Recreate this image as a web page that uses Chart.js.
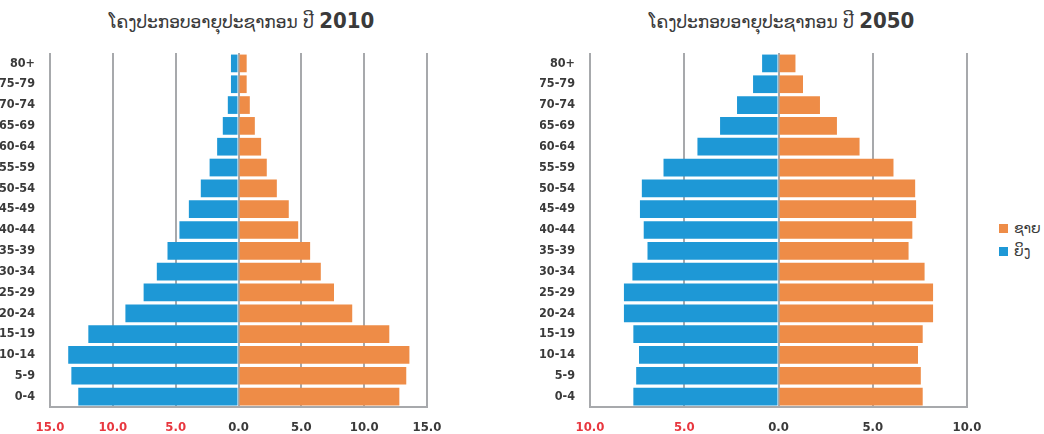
<!DOCTYPE html>
<html>
<head>
<meta charset="utf-8">
<script src="https://cdn.jsdelivr.net/npm/chart.js@4.4.1/dist/chart.umd.min.js"></script>
<style>
  html, body { margin: 0; padding: 0; background: #fff; }
  body { width: 1044px; height: 434px; position: relative; overflow: hidden; }
  canvas { position: absolute; top: 0; }
  .title { position: absolute; top: 8px; width: 445px; text-align: center; color: #3a3a3a; white-space: nowrap; }
  .title .lao { font-family: "DejaVu Sans", sans-serif; font-size: 17px; }
  .title .yr { font-family: "Liberation Sans Narrow", "DejaVu Sans Condensed", sans-serif; font-weight: bold; font-size: 22px; }
  .legend { position: absolute; left: 999px; top: 217px; font-family: "DejaVu Sans", sans-serif; font-size: 14px; color: #3a3a3a; }
  .legend div { height: 23px; line-height: 23px; white-space: nowrap; }
  .legend span.sw { display: inline-block; width: 9px; height: 9px; margin-right: 6px; vertical-align: middle; position: relative; top: -1px; }
</style>
</head>
<body>
<div class="title" style="left:19px"><span class="lao">ໂຄງປະກອບອາຍຸປະຊາກອນ ປີ </span><span class="yr">2010</span></div>
<div class="title" style="left:559px"><span class="lao">ໂຄງປະກອບອາຍຸປະຊາກອນ ປີ </span><span class="yr">2050</span></div>
<canvas id="c2010" width="445" height="434" style="left:0px"></canvas>
<canvas id="c2050" width="445" height="434" style="left:540px"></canvas>
<div class="legend">
  <div><span class="sw" style="background:#EE8C47"></span>ຊາຍ</div>
  <div><span class="sw" style="background:#1E98D6"></span>ຍິງ</div>
</div>
<script>
const ageGroups = ['80+','75-79','70-74','65-69','60-64','55-59','50-54','45-49','40-44','35-39','30-34','25-29','20-24','15-19','10-14','5-9','0-4'];
const maleLabel = 'ຊາຍ';
const femaleLabel = 'ຍິງ';

const male2010   = [0.65,0.65,0.9,1.3,1.8,2.25,3.05,4.0,4.75,5.7,6.55,7.6,9.05,12.0,13.6,13.35,12.8];
const female2010 = [0.6,0.6,0.85,1.25,1.7,2.3,3.0,3.95,4.7,5.65,6.5,7.55,9.0,11.95,13.55,13.3,12.75];

const male2050   = [0.9,1.3,2.2,3.1,4.3,6.1,7.25,7.3,7.1,6.9,7.75,8.2,8.2,7.65,7.4,7.55,7.65];
const female2050 = [0.87,1.35,2.2,3.1,4.3,6.1,7.25,7.35,7.15,6.95,7.75,8.2,8.2,7.7,7.4,7.55,7.7];

const ticks2010 = [-15,-10,-5,0,5,10,15];
const ticks2050 = [-10,-5,0,5,10];

const ORANGE = '#EE8C47';
const BLUE = '#1E98D6';
const GRID = '#A7A9AC';
const TEXT = '#3a3a3a';
const RED = '#E8373F';
const condensed = '"Liberation Sans Narrow", "DejaVu Sans Condensed", sans-serif';

function makePyramid(id, male, female, tickVals) {
  const min = tickVals[0], max = tickVals[tickVals.length - 1];
  return new Chart(document.getElementById(id), {
    type: 'bar',
    data: {
      labels: ageGroups,
      datasets: [
        { label: maleLabel, data: male, backgroundColor: ORANGE, borderWidth: 0,
          barPercentage: 1.0, categoryPercentage: 0.85 },
        { label: femaleLabel, data: female.map(v => -v), backgroundColor: BLUE, borderWidth: 0,
          barPercentage: 1.0, categoryPercentage: 0.85 }
      ]
    },
    options: {
      indexAxis: 'y',
      responsive: false,
      animation: false,
      devicePixelRatio: 1,
      layout: { padding: { top: 53, right: 18, left: 0, bottom: 0 } },
      plugins: { legend: { display: false }, title: { display: false }, tooltip: { enabled: false } },
      scales: {
        x: {
          stacked: true,
          min: min, max: max,
          afterBuildTicks: (scale) => { scale.ticks = tickVals.map(v => ({ value: v })); },
          afterFit: (scale) => { scale.height = 27; scale.paddingLeft = 0; scale.paddingRight = 0; },
          grid: { color: GRID, lineWidth: 2, drawTicks: false },
          border: { display: true, color: GRID, width: 2 },
          ticks: {
            padding: 13,
            font: { family: condensed, size: 13, weight: 'bold' },
            color: (ctx) => ctx.tick && ctx.tick.value < 0 ? RED : TEXT,
            callback: (v) => Math.abs(v).toFixed(1)
          }
        },
        y: {
          stacked: true,
          afterFit: (scale) => { scale.width = 50; scale.paddingTop = 0; scale.paddingBottom = 0; },
          grid: { display: false, drawTicks: false },
          border: { display: false },
          ticks: {
            padding: 15,
            font: { family: condensed, size: 12.5, weight: 'bold' },
            color: TEXT
          }
        }
      }
    }
  });
}

makePyramid('c2010', male2010, female2010, ticks2010);
makePyramid('c2050', male2050, female2050, ticks2050);
</script>
</body>
</html>
